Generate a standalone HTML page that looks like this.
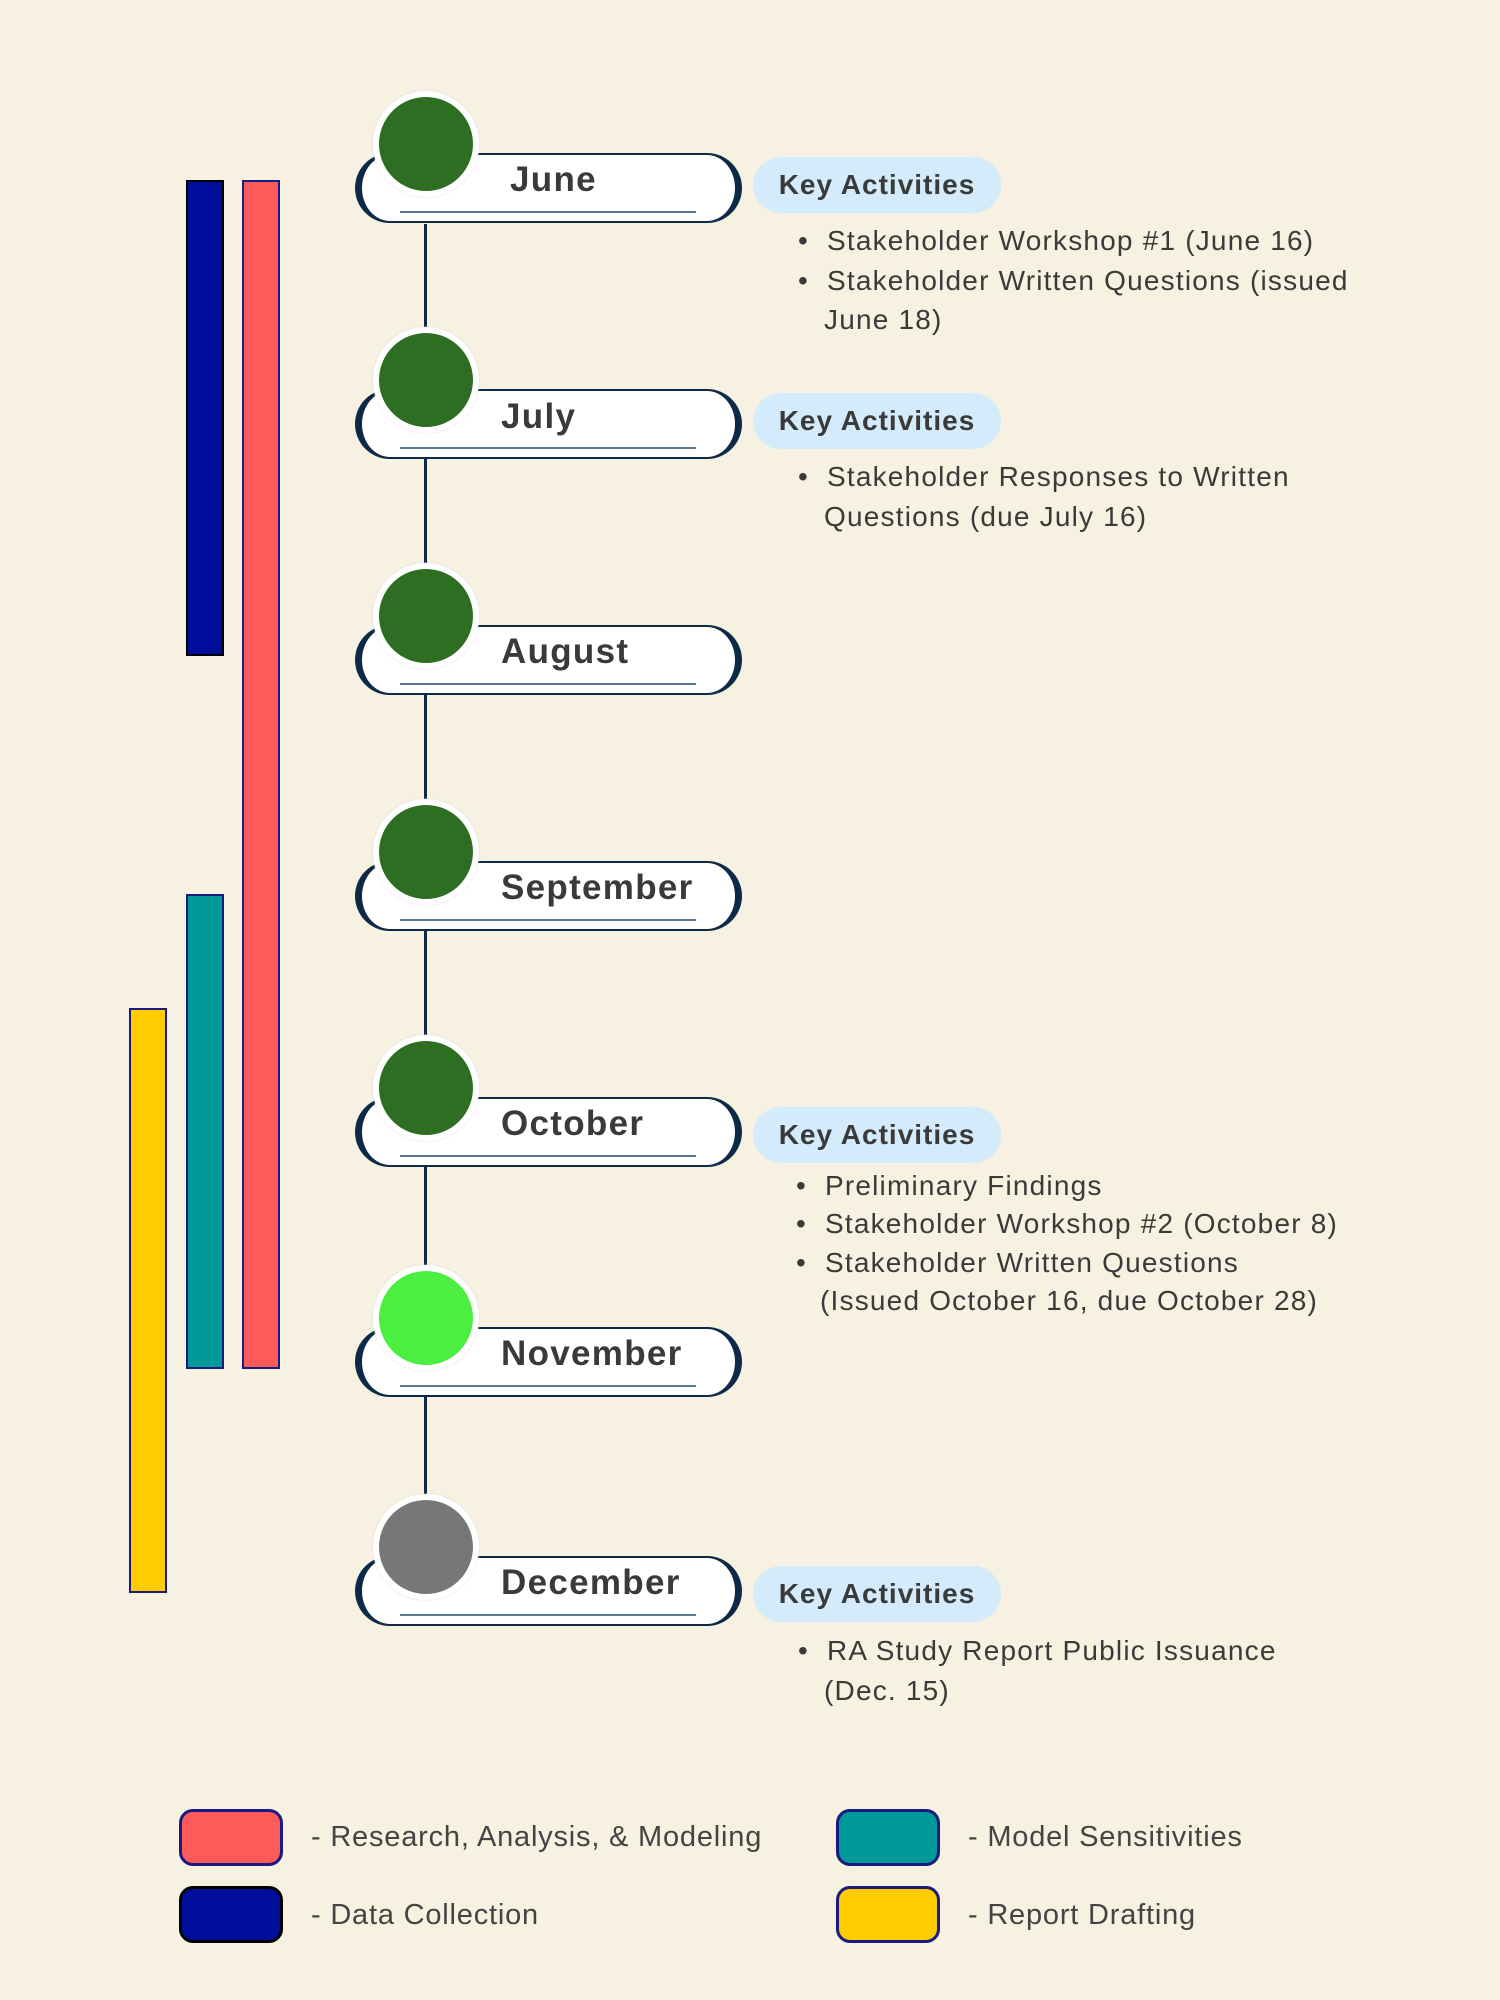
<!DOCTYPE html>
<html><head><meta charset="utf-8"><style>
body{margin:0;width:1500px;height:2000px;background:#f6f1e0;position:relative;overflow:hidden;font-family:"Liberation Sans",sans-serif;}
.pill{position:absolute;left:355px;width:373px;height:66px;background:#fff;border:2px solid #0c2a47;border-left:7px solid #0c2a47;border-right:7px solid #0c2a47;border-radius:36px;box-sizing:content-box;}
.ul{position:absolute;left:400px;width:296px;height:2px;background:#5d7891;}
.circ{position:absolute;left:373px;width:94px;height:94px;border-radius:50%;border:6px solid #fff;box-shadow:0 0 2px #ddd;}
.m{position:absolute;left:501px;font-weight:bold;font-size:35px;letter-spacing:1.3px;color:#3a3a3a;line-height:40px;}
.vl{position:absolute;left:424px;width:3px;background:#0c2a47;}
.ka{position:absolute;left:753px;width:248px;height:56px;border-radius:28px;background:#d3ebfa;font-weight:bold;font-size:28px;letter-spacing:1px;color:#3a3a3a;text-align:center;line-height:56px;}
.li{position:absolute;font-size:28px;letter-spacing:1.2px;color:#3a3a3a;line-height:40px;white-space:nowrap;}
.bar{position:absolute;width:38px;box-sizing:border-box;border:2px solid #1a1a80;}
.sw{position:absolute;width:104px;height:57px;border-radius:14px;box-sizing:border-box;border:3px solid #1a1a80;}
.lg{position:absolute;font-size:29px;letter-spacing:0.8px;color:#444;line-height:40px;white-space:nowrap;}
</style></head><body>
<div class="bar" style="left:186px;top:180px;height:476px;background:#000e9c;border-color:#000;"></div>
<div class="bar" style="left:242px;top:180px;height:1189px;background:#ff5a5a;"></div>
<div class="bar" style="left:186px;top:894px;height:475px;background:#009999;"></div>
<div class="bar" style="left:129px;top:1008px;height:585px;background:#ffcc00;"></div>

<div class="vl" style="top:224px;height:1330px;"></div>

<div class="pill" style="top:153px"></div><div class="ul" style="top:211px"></div>
<div class="pill" style="top:389px"></div><div class="ul" style="top:447px"></div>
<div class="pill" style="top:625px"></div><div class="ul" style="top:683px"></div>
<div class="pill" style="top:861px"></div><div class="ul" style="top:919px"></div>
<div class="pill" style="top:1097px"></div><div class="ul" style="top:1155px"></div>
<div class="pill" style="top:1327px"></div><div class="ul" style="top:1385px"></div>
<div class="pill" style="top:1556px"></div><div class="ul" style="top:1614px"></div>

<div class="circ" style="top:91px;background:#2e6e22"></div>
<div class="circ" style="top:327px;background:#2e6e22"></div>
<div class="circ" style="top:563px;background:#2e6e22"></div>
<div class="circ" style="top:799px;background:#2e6e22"></div>
<div class="circ" style="top:1035px;background:#2e6e22"></div>
<div class="circ" style="top:1265px;background:#4cee40"></div>
<div class="circ" style="top:1494px;background:#777"></div>

<div class="m" style="top:160px;left:510px">June</div>
<div class="m" style="top:397px">July</div>
<div class="m" style="top:632px">August</div>
<div class="m" style="top:868px">September</div>
<div class="m" style="top:1104px">October</div>
<div class="m" style="top:1334px">November</div>
<div class="m" style="top:1563px">December</div>

<div class="ka" style="top:157px">Key Activities</div>
<div class="li" style="left:798px;top:221px">•&nbsp; Stakeholder Workshop #1 (June 16)</div>
<div class="li" style="left:798px;top:261px">•&nbsp; Stakeholder Written Questions (issued</div>
<div class="li" style="left:824px;top:300px">June 18)</div>

<div class="ka" style="top:393px">Key Activities</div>
<div class="li" style="left:798px;top:457px">•&nbsp; Stakeholder Responses to Written</div>
<div class="li" style="left:824px;top:497px">Questions (due July 16)</div>

<div class="ka" style="top:1107px">Key Activities</div>
<div class="li" style="left:796px;top:1166px">•&nbsp; Preliminary Findings</div>
<div class="li" style="left:796px;top:1204px">•&nbsp; Stakeholder Workshop #2 (October 8)</div>
<div class="li" style="left:796px;top:1243px">•&nbsp; Stakeholder Written Questions</div>
<div class="li" style="left:820px;top:1281px">(Issued October 16, due October 28)</div>

<div class="ka" style="top:1566px">Key Activities</div>
<div class="li" style="left:798px;top:1631px">•&nbsp; RA Study Report Public Issuance</div>
<div class="li" style="left:824px;top:1671px">(Dec. 15)</div>

<div class="sw" style="left:179px;top:1809px;background:#ff5a5a"></div>
<div class="sw" style="left:179px;top:1886px;background:#000e9c;border-color:#000"></div>
<div class="sw" style="left:836px;top:1809px;background:#009999"></div>
<div class="sw" style="left:836px;top:1886px;background:#ffcc00"></div>
<div class="lg" style="left:311px;top:1817px">- Research, Analysis, &amp; Modeling</div>
<div class="lg" style="left:311px;top:1895px">- Data Collection</div>
<div class="lg" style="left:968px;top:1817px">- Model Sensitivities</div>
<div class="lg" style="left:968px;top:1895px">- Report Drafting</div>
</body></html>
